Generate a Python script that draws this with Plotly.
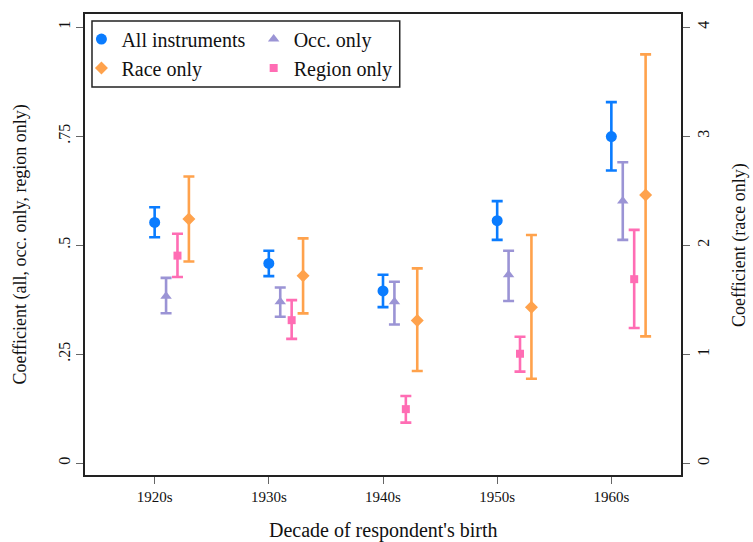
import plotly.graph_objects as go

decades = ["1920s", "1930s", "1940s", "1950s", "1960s"]

all_coef = [0.552, 0.458, 0.395, 0.556, 0.749]
all_lo = [0.518, 0.429, 0.358, 0.512, 0.671]
all_hi = [0.587, 0.487, 0.432, 0.601, 0.828]

occ_coef = [0.383, 0.370, 0.370, 0.432, 0.601]
occ_lo = [0.344, 0.336, 0.318, 0.372, 0.512]
occ_hi = [0.425, 0.403, 0.416, 0.487, 0.690]

region_coef = [0.476, 0.328, 0.124, 0.251, 0.422]
region_lo = [0.427, 0.285, 0.093, 0.210, 0.310]
region_hi = [0.526, 0.374, 0.154, 0.290, 0.535]

race_coef = [2.24, 1.72, 1.31, 1.43, 2.46]
race_lo = [1.85, 1.375, 0.846, 0.776, 1.164]
race_hi = [2.63, 2.063, 1.788, 2.093, 3.75]

BLUE = "#0a7cff"
PURPLE = "#9b94d5"
PINK = "#ff6db4"
ORANGE = "#ffa24c"
FONT = "Liberation Serif"

idx = list(range(len(decades)))

# plot area in pixels
L, R, T, B = 85, 681.5, 14, 475
PW, PH = R - L, B - T


def px(x):
    return (x - L) / PW


def py(y):
    return (B - y) / PH


def series(name, coef, lo, hi, offset, color, symbol, size, yaxis, legend):
    return go.Scatter(
        x=[i + offset for i in idx],
        y=coef,
        mode="markers",
        name=name,
        yaxis=yaxis,
        legend=legend,
        marker=dict(color=color, symbol=symbol, size=size, line=dict(width=0)),
        error_y=dict(
            type="data",
            symmetric=False,
            array=[h - c for h, c in zip(hi, coef)],
            arrayminus=[c - l for c, l in zip(coef, lo)],
            color=color,
            thickness=2.6,
            width=5.5,
        ),
    )


fig = go.Figure()
fig.add_trace(series("All instruments", all_coef, all_lo, all_hi, 0.0, BLUE, "circle", 11, "y", "legend"))
fig.add_trace(series("Race only", race_coef, race_lo, race_hi, 0.3, ORANGE, "diamond", 10, "y2", "legend"))
fig.add_trace(series("Occ. only", occ_coef, occ_lo, occ_hi, 0.1, PURPLE, "triangle-up", 10, "y", "legend2"))
fig.add_trace(series("Region only", region_coef, region_lo, region_hi, 0.2, PINK, "square", 8, "y", "legend2"))

axis_line = dict(showline=True, linecolor="#222", linewidth=1.5, ticks="outside", automargin=False,
                 ticklen=7, tickcolor="#666", tickwidth=1, showgrid=False, zeroline=False)

legend_common = dict(xanchor="left", yanchor="top", bgcolor="rgba(0,0,0,0)", tracegroupgap=0,
                     borderwidth=0, font=dict(size=20, family=FONT, color="#111"))

fig.update_layout(
    width=753, height=542,
    margin=dict(l=L, r=753 - R, t=T, b=542 - B),
    paper_bgcolor="white", plot_bgcolor="white",
    font=dict(family=FONT, size=16, color="#111"),
    xaxis=dict(
        range=[-0.61, 4.61], tickvals=idx, ticktext=decades, mirror=True,
        tickfont=dict(size=15), **axis_line,
    ),
    yaxis=dict(
        range=[-0.027, 1.030], tickvals=[0, 0.25, 0.5, 0.75, 1], ticktext=["0", ".25", ".5", ".75", "1"],
        tickangle=-90, mirror=True, tickfont=dict(size=16), **axis_line,
    ),
    yaxis2=dict(
        range=[-0.107, 4.12], tickvals=[0, 1, 2, 3, 4], overlaying="y", side="right",
        tickangle=-90, tickfont=dict(size=16), **axis_line,
    ),
    legend=dict(x=-0.006, y=0.988, **legend_common),
    legend2=dict(x=0.283, y=0.988, **legend_common),
    shapes=[dict(type="rect", xref="paper", yref="paper",
                 x0=px(92), x1=px(400), y0=py(87), y1=py(21),
                 line=dict(color="#222", width=1.5), fillcolor="rgba(0,0,0,0)")],
    annotations=[
        dict(text="Decade of respondent's birth", xref="paper", yref="paper", x=0.5, y=py(530),
             xanchor="center", yanchor="middle", showarrow=False, font=dict(size=20)),
        dict(text="Coefficient (all, occ. only, region only)", xref="paper", yref="paper", x=px(20), y=0.5,
             xanchor="center", yanchor="middle", showarrow=False, textangle=-90, font=dict(size=18)),
        dict(text="Coefficient (race only)", xref="paper", yref="paper", x=px(740), y=0.5,
             xanchor="center", yanchor="middle", showarrow=False, textangle=-90, font=dict(size=18)),
    ],
    showlegend=True,
)

fig.write_html("out.html", config={"displayModeBar": False},
               post_script="document.body.style.margin='0';")
